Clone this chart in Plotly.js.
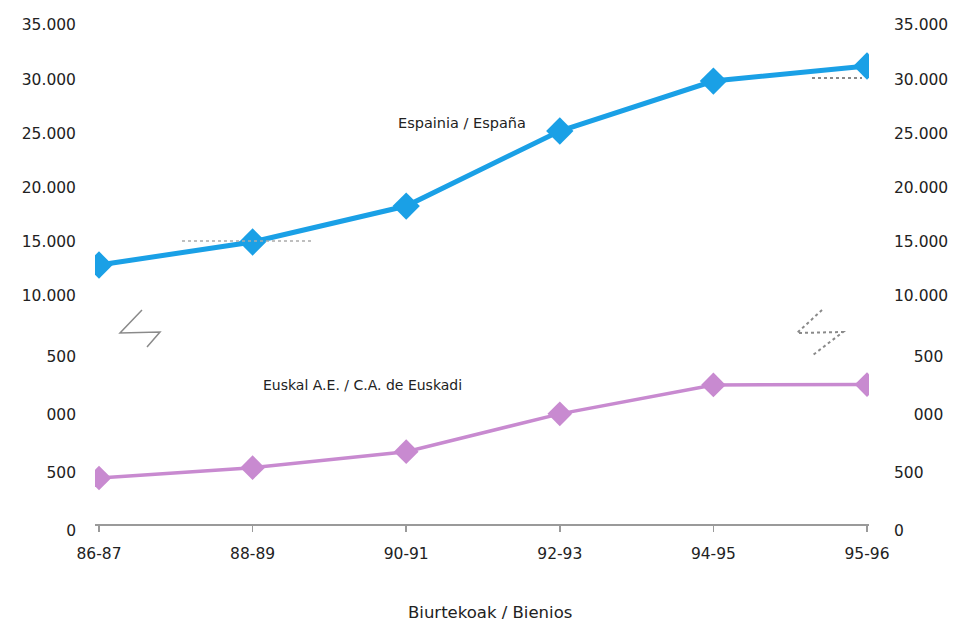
<!DOCTYPE html>
<html><head><meta charset="utf-8">
<script src="https://cdn.plot.ly/plotly-3.0.1.min.js"></script>
<style>html,body{margin:0;padding:0;background:#fff;}#chart{width:959px;height:625px;}</style>
</head><body><div id="chart"></div>
<script>
// Data
const bienios = ["86-87","88-89","90-91","92-93","94-95","95-96"];
const espana = [12860,14980,18300,25220,29830,31220];
const euskadi = [457,546,684,1010,1259,1262];
const topTickVals = [10000,15000,20000,25000,30000,35000];
const topTickText = ["10.000","15.000","20.000","25.000","30.000","35.000"];
const lowTickVals = [0,500,1000,1500];
const lowTickTextLeft = ["0","500","000","500"];
const lowTickTextRight = ["0","500","\u00a0\u00a0\u00a0\u00a0000","\u00a0\u00a0\u00a0\u00a0500"];
const labelEspana = "Espainia / España";
const labelEuskadi = "Euskal A.E. / C.A. de Euskadi";
const xTitle = "Biurtekoak / Bienios";

// Layout helpers (pixel -> paper)
const L = 95, R = 869, T = 25, B = 531;
const px = x => (x - L) / (R - L);
const py = y => (B - y) / (B - T);
const P = (x, y) => px(x).toFixed(4) + "," + py(y).toFixed(4);

const font = {family: "DejaVu Sans, Liberation Sans, sans-serif", size: 15.5, color: "#222"};
const blue = "#1aa0e6", pink = "#c88ad0";

const traces = [
  {x: bienios, y: espana, xaxis: "x", yaxis: "y3", mode: "lines", opacity: 0, hoverinfo: "skip", showlegend: false},
  {x: bienios, y: euskadi, xaxis: "x", yaxis: "y4", mode: "lines", opacity: 0, hoverinfo: "skip", showlegend: false},
  {x: bienios, y: espana, xaxis: "x", yaxis: "y", mode: "lines+markers", name: labelEspana,
   line: {color: blue, width: 5}, marker: {symbol: "diamond", size: 21, color: blue}},
  {x: bienios, y: euskadi, xaxis: "x", yaxis: "y2", mode: "lines+markers", name: labelEuskadi,
   line: {color: pink, width: 3.5}, marker: {symbol: "diamond", size: 19, color: pink}}
];

const yCommon = {showgrid: false, zeroline: false, showline: false, ticks: "", tickfont: font, tickmode: "array", fixedrange: true};

const layout = {
  width: 959, height: 625,
  margin: {l: L, r: 959 - R, t: T, b: 625 - B},
  paper_bgcolor: "#fff", plot_bgcolor: "#fff",
  showlegend: false,
  font: font,
  xaxis: {type: "category", range: [-0.026, 5.013], anchor: "free", position: py(525),
    showgrid: false, zeroline: false, showline: true, linecolor: "#9a9a9a", linewidth: 2,
    ticks: "outside", ticklen: 6, tickcolor: "#9a9a9a", tickwidth: 1.5,
    tickfont: font, ticklabelstandoff: 8},
  yaxis: Object.assign({}, yCommon, {domain: [py(296), 1], range: [10000, 35000],
    tickvals: topTickVals, ticktext: topTickText, ticklabelstandoff: 18}),
  yaxis2: Object.assign({}, yCommon, {domain: [0, py(357)], range: [0, 1500], anchor: "x",
    tickvals: lowTickVals, ticktext: lowTickTextLeft, ticklabelstandoff: 18}),
  yaxis3: Object.assign({}, yCommon, {overlaying: "y", side: "right", range: [10000, 35000],
    tickvals: topTickVals, ticktext: topTickText, ticklabelstandoff: 24, anchor: "x"}),
  yaxis4: Object.assign({}, yCommon, {overlaying: "y2", side: "right", range: [0, 1500],
    tickvals: lowTickVals, ticktext: lowTickTextRight, ticklabelstandoff: 24, anchor: "x"}),
  annotations: [
    {text: labelEspana, xref: "paper", yref: "paper", x: px(462), y: py(113), showarrow: false,
     font: {family: font.family, size: 14.5, color: "#222"}},
    {text: labelEuskadi, xref: "paper", yref: "paper", x: px(362), y: py(395), showarrow: false,
     font: {family: font.family, size: 14, color: "#222"}},
    {text: xTitle, xref: "paper", yref: "paper", x: px(490), y: py(601), yanchor: "top", showarrow: false,
     font: {family: font.family, size: 16.5, color: "#222"}}
  ],
  shapes: [
    {type: "path", xref: "paper", yref: "paper", path: "M" + P(142,310) + "L" + P(120,333) + "L" + P(160,332) + "L" + P(147,347),
     line: {color: "#8a8a8a", width: 1.5}},
    {type: "path", xref: "paper", yref: "paper", path: "M" + P(822,310) + "L" + P(797,333) + "L" + P(843,332) + "L" + P(813,355),
     line: {color: "#8a8a8a", width: 2, dash: "dot"}},
    {type: "line", xref: "paper", yref: "paper", x0: px(182), y0: py(241), x1: px(312), y1: py(241),
     line: {color: "#aaaaaa", width: 1.5, dash: "dot"}},
    {type: "line", xref: "paper", yref: "paper", x0: px(812), y0: py(78), x1: px(862), y1: py(78),
     line: {color: "#888888", width: 2, dash: "dot"}}
  ]
};

Plotly.newPlot("chart", traces, layout, {staticPlot: true, displayModeBar: false});
</script>
</body></html>
